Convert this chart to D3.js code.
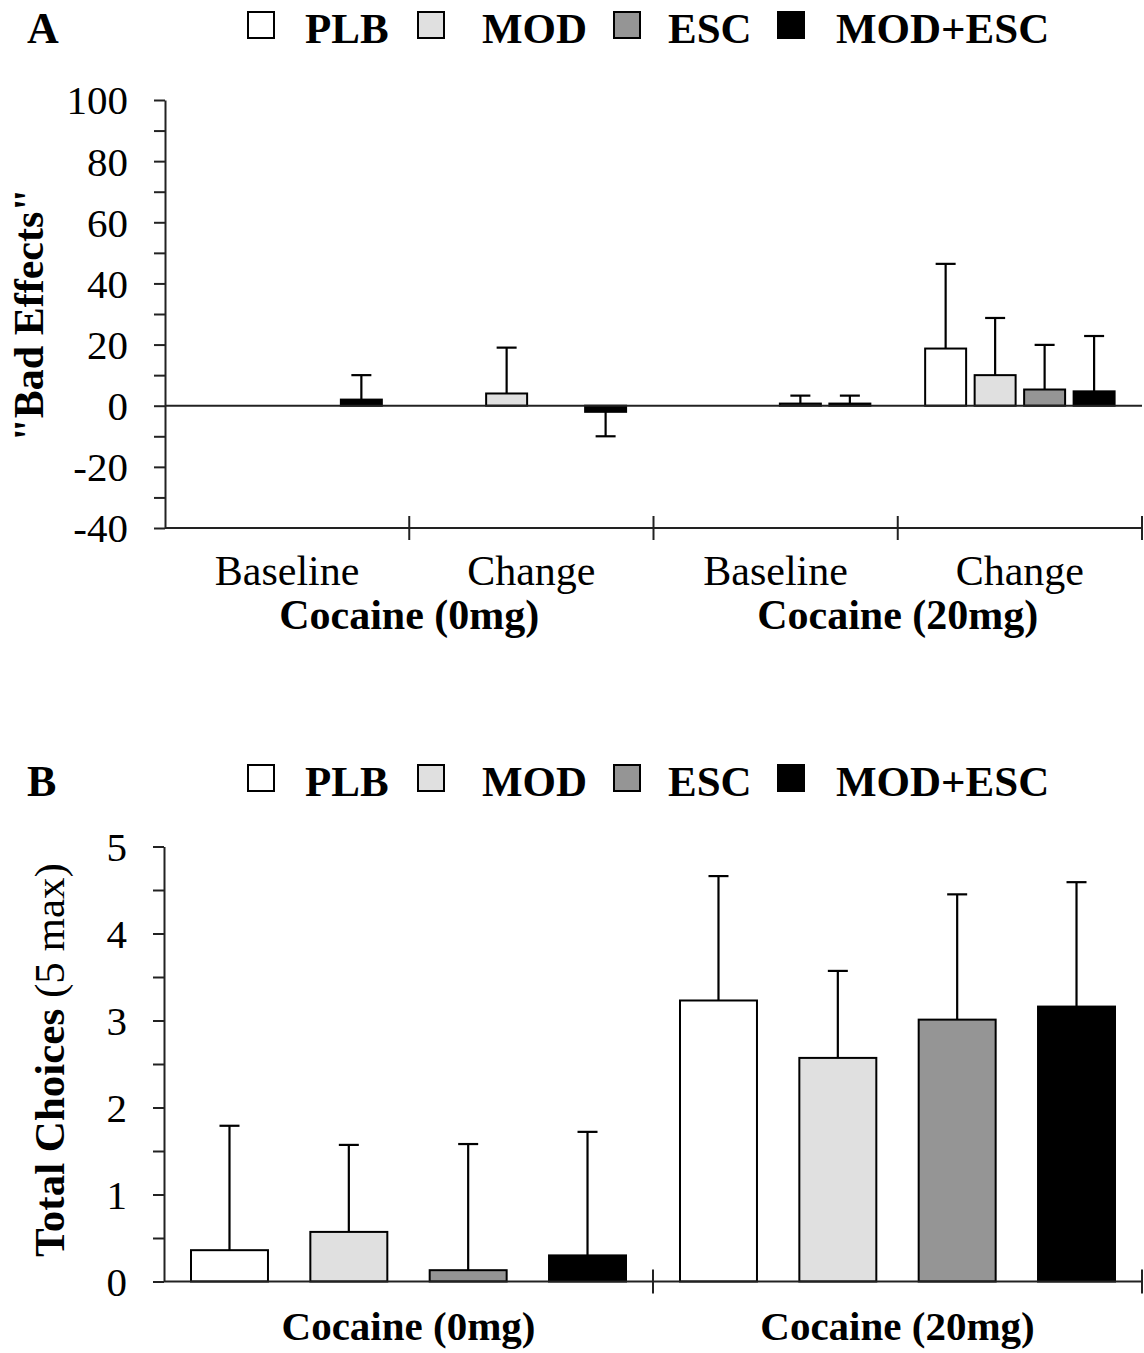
<!DOCTYPE html>
<html>
<head>
<meta charset="utf-8">
<script src="https://cdn.jsdelivr.net/npm/d3@7"></script>
<style>
  html, body { margin: 0; padding: 0; background: #fff; }
  svg { display: block; font-family: "Liberation Serif", "Times New Roman", Times, serif; }
</style>
</head>
<body>
<svg id="chart" width="1144" height="1353"></svg>
<script>
// ---------------- DATA ----------------
const series = ["PLB", "MOD", "ESC", "MOD+ESC"];
const seriesFill = ["#ffffff", "#e0e0e0", "#959595", "#000000"];

// Panel A: "Bad Effects"
const aConditions = ["Baseline", "Change", "Baseline", "Change"];
const aDoses = ["Cocaine (0mg)", "Cocaine (20mg)"];
const aMeans = [
  [0, 0, 0, 2],
  [0, 4, 0, -2],
  [0, 0, 0.7, 0.7],
  [18.7, 10.0, 5.3, 4.7]
];
const aErrors = [
  [0, 0, 0, 8],
  [0, 15, 0, 8],
  [0, 0, 2.6, 2.6],
  [27.7, 18.7, 14.6, 18.1]
];
const aTicks = [-40, -30, -20, -10, 0, 10, 20, 30, 40, 50, 60, 70, 80, 90, 100];
const aTickLabels = [-40, -20, 0, 20, 40, 60, 80, 100];

// Panel B: Total Choices
const bDoses = ["Cocaine (0mg)", "Cocaine (20mg)"];
const bMeans = [
  [0.36, 0.57, 0.13, 0.30],
  [3.23, 2.57, 3.01, 3.16]
];
const bErrors = [
  [1.43, 1.00, 1.45, 1.42],
  [1.43, 1.00, 1.44, 1.43]
];
const bTicks = [0, 0.5, 1, 1.5, 2, 2.5, 3, 3.5, 4, 4.5, 5];
const bTickLabels = [0, 1, 2, 3, 4, 5];

// ---------------- DRAWING ----------------
const svg = d3.select("#chart");
const INK = "#000";
const AXIS = "#222";
const fillOf = d3.scaleOrdinal().domain(series).range(seriesFill);

function legend(yTop, letter) {
  const g = svg.append("g");
  g.append("text").attr("x", 27).attr("y", yTop + 31)
    .attr("font-size", 44).attr("font-weight", "bold").text(letter);
  const itemX = [248, 418, 614, 778];
  const textOff = [57, 64, 54, 58];
  series.forEach((s, i) => {
    g.append("rect").attr("x", itemX[i]).attr("y", yTop).attr("width", 26).attr("height", 26)
      .attr("fill", fillOf(s)).attr("stroke", INK).attr("stroke-width", 2);
    g.append("text").attr("x", itemX[i] + textOff[i]).attr("y", yTop + 31)
      .attr("font-size", 43).attr("font-weight", "bold").text(s);
  });
}

function yAxis(y, ticks, labels, xPos) {
  const labelSet = new Set(labels.map(String));
  const ax = d3.axisLeft(y).tickValues(ticks)
    .tickFormat(d => labelSet.has(String(d)) ? String(d) : "")
    .tickSize(11).tickSizeOuter(0).tickPadding(26);
  const g = svg.append("g").attr("transform", `translate(${xPos},0)`).call(ax);
  g.select(".domain").attr("stroke", AXIS).attr("stroke-width", 2);
  g.selectAll(".tick line").attr("stroke", AXIS).attr("stroke-width", 2);
  g.selectAll(".tick text").attr("font-size", 41).attr("font-family", "'Liberation Serif', 'Times New Roman', serif")
    .attr("fill", INK).attr("dy", "0.34em");
  return g;
}

function bars(gIdx, means, errors, x0, x1, y, cap) {
  const g = svg.append("g");
  const data = means.map((v, i) => ({ s: series[i], v, e: errors[i] }));
  const gx = x0(gIdx);
  g.selectAll("rect").data(data.filter(d => d.v !== 0)).join("rect")
    .attr("x", d => gx + x1(d.s))
    .attr("width", x1.bandwidth())
    .attr("y", d => y(Math.max(0, d.v)))
    .attr("height", d => Math.abs(y(d.v) - y(0)))
    .attr("fill", d => fillOf(d.s))
    .attr("stroke", INK).attr("stroke-width", 2);
  data.filter(d => d.e > 0).forEach(d => {
    const cx = gx + x1(d.s) + x1.bandwidth() / 2;
    const end = d.v >= 0 ? d.v + d.e : d.v - d.e;
    g.append("line").attr("x1", cx).attr("x2", cx).attr("y1", y(d.v)).attr("y2", y(end))
      .attr("stroke", INK).attr("stroke-width", 2.2);
    g.append("line").attr("x1", cx - cap / 2).attr("x2", cx + cap / 2).attr("y1", y(end)).attr("y2", y(end))
      .attr("stroke", INK).attr("stroke-width", 2.2);
  });
}

// ---------- Panel A ----------
legend(12, "A");
const aLeft = 165, aRight = 1142;
const yA = d3.scaleLinear().domain([-40, 100]).range([528, 100]);
const x0A = d3.scaleBand().domain(d3.range(aConditions.length)).range([aLeft, aRight]).padding(0);
const x1A = d3.scaleBand().domain(series).range([27.4, x0A.bandwidth() - 27.4]).paddingInner(0.172).paddingOuter(0);

aMeans.forEach((m, gi) => bars(gi, m, aErrors[gi], x0A, x1A, yA, 20));

// zero line
svg.append("line").attr("x1", aLeft).attr("x2", aRight).attr("y1", yA(0)).attr("y2", yA(0))
  .attr("stroke", AXIS).attr("stroke-width", 2);
// bottom axis
svg.append("line").attr("x1", aLeft).attr("x2", aRight).attr("y1", yA(-40)).attr("y2", yA(-40))
  .attr("stroke", AXIS).attr("stroke-width", 2);
d3.range(aConditions.length).forEach(gi => {
  const bx = x0A(gi) + x0A.bandwidth();
  svg.append("line").attr("x1", bx).attr("x2", bx).attr("y1", yA(-40) - 12).attr("y2", yA(-40) + 12)
    .attr("stroke", AXIS).attr("stroke-width", 2);
});
yAxis(yA, aTicks, aTickLabels, aLeft);

aConditions.forEach((c, gi) => {
  svg.append("text").attr("x", x0A(gi) + x0A.bandwidth() / 2).attr("y", 585)
    .attr("text-anchor", "middle").attr("font-size", 42).text(c);
});
aDoses.forEach((d, di) => {
  svg.append("text").attr("x", x0A(di * 2) + x0A.bandwidth()).attr("y", 629)
    .attr("text-anchor", "middle").attr("font-size", 42).attr("font-weight", "bold").text(d);
});
svg.append("text").attr("transform", `translate(43,${(yA(100) + yA(-40)) / 2 + 1}) rotate(-90)`)
  .attr("text-anchor", "middle").attr("font-size", 42).attr("font-weight", "bold")
  .text('"Bad Effects"');

// ---------- Panel B ----------
legend(765, "B");
const bLeft = 164, bRight = 1142;
const yB = d3.scaleLinear().domain([0, 5]).range([1281.5, 846.5]);
const x0B = d3.scaleBand().domain(d3.range(bDoses.length)).range([bLeft, bRight]).padding(0);
const x1B = d3.scaleBand().domain(series).range([27, x0B.bandwidth() - 27]).paddingInner(0.355).paddingOuter(0);

bMeans.forEach((m, gi) => bars(gi, m, bErrors[gi], x0B, x1B, yB, 20));

svg.append("line").attr("x1", bLeft).attr("x2", bRight).attr("y1", yB(0)).attr("y2", yB(0))
  .attr("stroke", AXIS).attr("stroke-width", 2);
d3.range(bDoses.length).forEach(gi => {
  const bx = x0B(gi) + x0B.bandwidth();
  svg.append("line").attr("x1", bx).attr("x2", bx).attr("y1", yB(0) - 12).attr("y2", yB(0) + 12)
    .attr("stroke", AXIS).attr("stroke-width", 2);
});
yAxis(yB, bTicks, bTickLabels, bLeft);

bDoses.forEach((d, di) => {
  svg.append("text").attr("x", x0B(di) + x0B.bandwidth() / 2).attr("y", 1340)
    .attr("text-anchor", "middle").attr("font-size", 41).attr("font-weight", "bold").text(d);
});
const tB = svg.append("text").attr("transform", `translate(64,1060) rotate(-90)`)
  .attr("text-anchor", "middle").attr("font-size", 43);
tB.append("tspan").attr("font-weight", "bold").text("Total Choices ");
tB.append("tspan").text("(5 max)");
</script>
</body>
</html>
